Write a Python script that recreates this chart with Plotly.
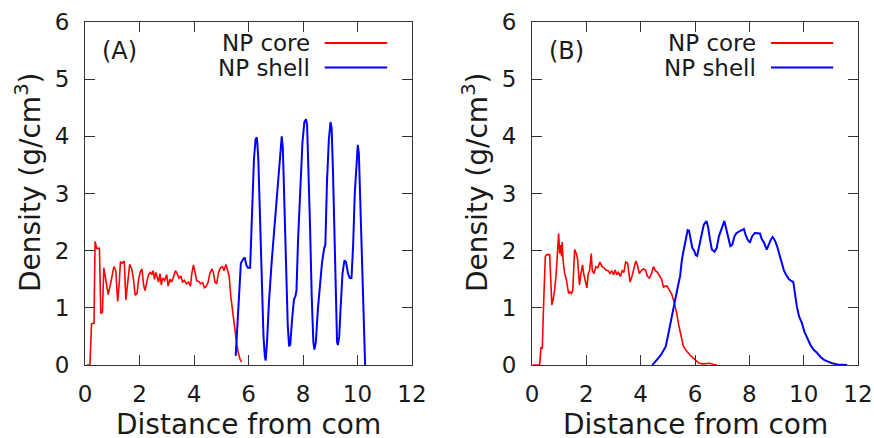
import plotly.graph_objects as go

# ---- density profiles: panel (A) ----
core_a_x = [0.06, 0.18, 0.24, 0.33, 0.37, 0.40, 0.43, 0.53, 0.58, 0.64, 0.69, 0.76, 0.85, 0.93,
            1.00, 1.06, 1.13, 1.20, 1.26, 1.30, 1.36, 1.44, 1.50, 1.57, 1.64, 1.71, 1.78, 1.84,
            1.91, 1.97, 2.03, 2.09, 2.15, 2.20, 2.27, 2.33, 2.40, 2.45, 2.50, 2.55, 2.60, 2.65,
            2.70, 2.75, 2.80, 2.85, 2.92, 3.00, 3.05, 3.12, 3.18, 3.25, 3.32, 3.38, 3.45, 3.52,
            3.58, 3.65, 3.72, 3.80, 3.87, 3.92, 3.98, 4.04, 4.10, 4.18, 4.25, 4.32, 4.38, 4.44,
            4.52, 4.58, 4.66, 4.71, 4.77, 4.83, 4.90, 4.97, 5.05, 5.10, 5.17, 5.22, 5.29, 5.35,
            5.40, 5.45, 5.51, 5.57, 5.63, 5.69, 5.75]
core_a_y = [0.00, 0.00, 0.72, 0.73, 2.16, 2.10, 2.04, 2.04, 0.90, 0.92, 1.70, 1.50, 1.23, 1.40,
            1.55, 1.72, 1.65, 1.11, 1.45, 1.81, 1.78, 1.82, 1.14, 1.50, 1.76, 1.69, 1.50, 1.22,
            1.25, 1.50, 1.63, 1.68, 1.40, 1.30, 1.45, 1.58, 1.62, 1.58, 1.65, 1.50, 1.62, 1.55,
            1.45, 1.60, 1.40, 1.52, 1.48, 1.58, 1.38, 1.50, 1.45, 1.55, 1.65, 1.60, 1.52, 1.55,
            1.45, 1.48, 1.42, 1.45, 1.38, 1.60, 1.75, 1.62, 1.47, 1.46, 1.42, 1.44, 1.35, 1.37,
            1.45, 1.60, 1.68, 1.62, 1.45, 1.42, 1.62, 1.70, 1.72, 1.65, 1.76, 1.68, 1.55, 1.20,
            1.00, 0.78, 0.55, 0.36, 0.20, 0.10, 0.05]

shell_a_x = [5.53, 5.60, 5.66, 5.72, 5.80, 5.86, 5.92, 5.98, 6.06, 6.10, 6.15, 6.20, 6.26, 6.31,
             6.36, 6.42, 6.48, 6.55, 6.60, 6.63, 6.68, 6.75, 6.85, 6.95, 7.05, 7.13, 7.19, 7.22,
             7.26, 7.32, 7.38, 7.44, 7.49, 7.53, 7.60, 7.67, 7.72, 7.76, 7.82, 7.90, 7.98, 8.05,
             8.11, 8.15, 8.20, 8.26, 8.32, 8.38, 8.42, 8.47, 8.55, 8.63, 8.70, 8.78, 8.82, 8.88,
             8.95, 9.01, 9.05, 9.10, 9.15, 9.20, 9.25, 9.28, 9.33, 9.38, 9.45, 9.52, 9.58, 9.65,
             9.72, 9.78, 9.84, 9.90, 9.96, 10.01, 10.05, 10.10, 10.16, 10.22, 10.28]
shell_a_y = [0.16, 0.80, 1.40, 1.78, 1.85, 1.88, 1.75, 1.70, 1.70, 2.20, 3.00, 3.60, 3.95, 3.98,
             3.60, 2.50, 1.40, 0.50, 0.15, 0.08, 0.40, 1.10, 1.80, 2.40, 3.00, 3.60, 3.95, 4.00,
             3.80, 2.80, 1.70, 0.70, 0.33, 0.35, 0.80, 1.15, 1.20, 1.30, 2.20, 3.20, 3.90, 4.25,
             4.30, 4.20, 3.50, 2.40, 1.20, 0.40, 0.27, 0.40, 1.00, 1.50, 1.80, 2.05, 2.10, 3.20,
             3.95, 4.25, 4.15, 3.40, 2.20, 1.00, 0.40, 0.35, 0.50, 1.00, 1.60, 1.83, 1.80, 1.60,
             1.52, 1.52, 2.10, 3.00, 3.60, 3.85, 3.70, 2.80, 1.80, 0.90, 0.00]

# ---- density profiles: panel (B) ----
core_b_x = [0.03, 0.28, 0.33, 0.38, 0.43, 0.49, 0.55, 0.65, 0.69, 0.73, 0.78, 0.83, 0.89, 0.94,
            0.98, 1.02, 1.06, 1.09, 1.11, 1.15, 1.20, 1.26, 1.30, 1.35, 1.40, 1.45, 1.50, 1.55,
            1.57, 1.63, 1.68, 1.72, 1.75, 1.80, 1.86, 1.90, 1.96, 2.02, 2.07, 2.12, 2.18, 2.22,
            2.28, 2.35, 2.42, 2.50, 2.58, 2.65, 2.72, 2.80, 2.87, 2.93, 3.00, 3.06, 3.12, 3.18,
            3.25, 3.32, 3.38, 3.45, 3.52, 3.57, 3.61, 3.68, 3.75, 3.82, 3.88, 3.95, 4.02, 4.10,
            4.18, 4.25, 4.32, 4.40, 4.47, 4.54, 4.62, 4.70, 4.77, 4.84, 4.90, 4.97, 5.05, 5.14,
            5.22, 5.32, 5.40, 5.48, 5.57, 5.66, 5.74, 5.82, 5.94, 6.06, 6.15, 6.30, 6.45, 6.55,
            6.68, 6.80]
core_b_y = [0.00, 0.00, 0.30, 0.30, 1.10, 1.90, 1.93, 1.93, 1.50, 1.05, 1.15, 1.30, 1.60, 2.00,
            2.30, 1.95, 2.10, 1.90, 2.15, 1.80, 1.60, 1.50, 1.35, 1.25, 1.28, 1.25, 1.30, 1.75,
            2.02, 1.95, 1.85, 1.55, 1.40, 1.60, 1.75, 1.60, 1.45, 1.35, 1.60, 1.65, 1.95, 1.65,
            1.60, 1.72, 1.70, 1.80, 1.72, 1.70, 1.66, 1.65, 1.60, 1.65, 1.58, 1.66, 1.58, 1.62,
            1.55, 1.65, 1.62, 1.80, 1.78, 1.60, 1.45, 1.55, 1.70, 1.82, 1.75, 1.60, 1.65, 1.68,
            1.66, 1.55, 1.52, 1.60, 1.72, 1.65, 1.62, 1.55, 1.50, 1.36, 1.38, 1.38, 1.32, 1.24,
            1.12, 0.92, 0.70, 0.50, 0.33, 0.26, 0.21, 0.17, 0.12, 0.06, 0.03, 0.02, 0.03, 0.03,
            0.01, 0.00]

shell_b_x = [4.43, 4.55, 4.65, 4.75, 4.85, 4.92, 5.00, 5.08, 5.15, 5.22, 5.30, 5.38, 5.45, 5.52,
             5.60, 5.67, 5.73, 5.78, 5.84, 5.90, 5.97, 6.03, 6.08, 6.16, 6.24, 6.32, 6.42, 6.48,
             6.55, 6.62, 6.72, 6.80, 6.88, 6.96, 7.02, 7.08, 7.14, 7.21, 7.30, 7.37, 7.45, 7.53,
             7.62, 7.70, 7.80, 7.86, 7.93, 8.02, 8.10, 8.20, 8.30, 8.39, 8.46, 8.53, 8.64, 8.72,
             8.80, 8.86, 8.94, 9.02, 9.10, 9.18, 9.27, 9.35, 9.46, 9.55, 9.62, 9.68, 9.75, 9.83,
             9.93, 10.03, 10.13, 10.24, 10.36, 10.48, 10.62, 10.75, 10.90, 11.05, 11.25, 11.60]
shell_b_y = [0.00, 0.06, 0.12, 0.18, 0.25, 0.32, 0.50, 0.70, 0.85, 1.00, 1.25, 1.40, 1.55, 1.85,
             2.05, 2.25, 2.36, 2.35, 2.20, 2.05, 2.00, 1.92, 1.91, 2.08, 2.25, 2.45, 2.52, 2.42,
             2.20, 2.02, 1.98, 2.05, 2.25, 2.35, 2.45, 2.52, 2.40, 2.25, 2.08, 2.10, 2.25, 2.31,
             2.33, 2.36, 2.38, 2.28, 2.20, 2.14, 2.25, 2.31, 2.30, 2.30, 2.20, 2.15, 2.02, 2.12,
             2.20, 2.24, 2.18, 2.08, 1.95, 1.80, 1.66, 1.58, 1.50, 1.47, 1.45, 1.25, 1.02, 0.85,
             0.74, 0.58, 0.46, 0.36, 0.27, 0.22, 0.14, 0.09, 0.06, 0.03, 0.01, 0.00]

series_names = ["NP core", "NP shell"]
panel_labels = ["(A)", "(B)"]
x_ticks = [0, 2, 4, 6, 8, 10, 12]
y_ticks = [0, 1, 2, 3, 4, 5, 6]
x_title = "Distance from com"
y_title = "Density (g/cm<sup>3</sup>)"

RED = "#ff0000"
BLUE = "#0000ff"
INK = "#1a1a1a"
FONT = "DejaVu Sans"

W, H = 874, 438
dom_a = [85 / W, 412 / W]
dom_b = [532 / W, 858 / W]
dom_y = [(H - 365) / H, (H - 22) / H]

fig = go.Figure()
panels = [
    ("x", "y", core_a_x, core_a_y, shell_a_x, shell_a_y),
    ("x2", "y2", core_b_x, core_b_y, shell_b_x, shell_b_y),
]
for xa, ya, cx, cy, sx, sy in panels:
    fig.add_trace(go.Scatter(x=cx, y=cy, mode="lines", xaxis=xa, yaxis=ya,
                             line=dict(color=RED, width=1.6), showlegend=False))
    fig.add_trace(go.Scatter(x=sx, y=sy, mode="lines", xaxis=xa, yaxis=ya,
                             line=dict(color=BLUE, width=2), showlegend=False))

axis_common = dict(showline=True, mirror="ticks", linecolor="#333333", linewidth=1,
                   ticks="inside", ticklen=10, tickwidth=1, tickcolor="#333333",
                   showgrid=False, zeroline=False, automargin=False,
                   tickfont=dict(family=FONT, size=23, color=INK))

fig.update_layout(
    width=W, height=H,
    margin=dict(l=0, r=0, t=0, b=0, autoexpand=False),
    paper_bgcolor="white", plot_bgcolor="white",
    showlegend=False,
    xaxis=dict(domain=dom_a, range=[0, 12], tickvals=x_ticks, anchor="y",
               ticklabelstandoff=8, **axis_common),
    yaxis=dict(domain=dom_y, range=[0, 6], tickvals=y_ticks, anchor="x",
               ticklabelstandoff=10, **axis_common),
    xaxis2=dict(domain=dom_b, range=[0, 12], tickvals=x_ticks, anchor="y2",
                ticklabelstandoff=8, **axis_common),
    yaxis2=dict(domain=dom_y, range=[0, 6], tickvals=y_ticks, anchor="x2",
                ticklabelstandoff=10, **axis_common),
)

annotations = []
shapes = []
for i, (xa, ya) in enumerate([("x", "y"), ("x2", "y2")]):
    dom = dom_a if i == 0 else dom_b
    xref = f"{xa} domain"
    yref = f"{ya} domain"
    # panel tag
    annotations.append(dict(text=panel_labels[i], x=0.045, y=0.915, xref=xref, yref=yref,
                            xanchor="left", yanchor="middle", showarrow=False,
                            font=dict(family=FONT, size=24, color=INK)))
    # key: label on the left, line sample on the right
    for name, color, ky in [(series_names[0], RED, 0.939), (series_names[1], BLUE, 0.867)]:
        annotations.append(dict(text=name, x=0.694, y=ky, xref=xref, yref=yref,
                                xanchor="right", yanchor="middle", showarrow=False,
                                font=dict(family=FONT, size=23, color=INK)))
        shapes.append(dict(type="line", xref=xref, yref=yref, x0=0.733, x1=0.924,
                           y0=ky, y1=ky, line=dict(color=color, width=2)))
    # axis titles
    annotations.append(dict(text=x_title, x=(dom[0] + dom[1]) / 2, y=(H - 424) / H,
                            xref="paper", yref="paper", xanchor="center", yanchor="middle",
                            showarrow=False, font=dict(family=FONT, size=28, color=INK)))
    annotations.append(dict(text=y_title, x=(dom[0] * W - 57) / W, y=(H - 182) / H,
                            xref="paper", yref="paper", xanchor="center", yanchor="middle",
                            textangle=-90, showarrow=False,
                            font=dict(family=FONT, size=28, color=INK)))

fig.update_layout(annotations=annotations, shapes=shapes)
fig.write_html("out.html")
